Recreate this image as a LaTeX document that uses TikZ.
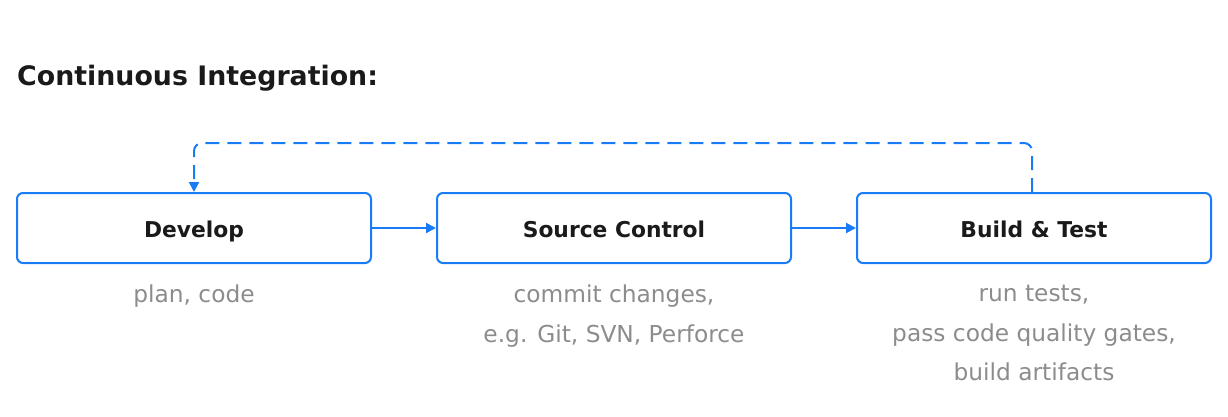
\documentclass[tikz,border=0pt]{standalone}
\usepackage{fontspec}
\setmainfont{DejaVu Sans}
\usetikzlibrary{arrows.meta}
\definecolor{ciblue}{HTML}{1A7CF5}
\definecolor{cigray}{HTML}{8C8C8C}
\definecolor{citext}{HTML}{1A1A1A}
\begin{document}
\begin{tikzpicture}[x=1pt,y=-1pt,
  stagebox/.style={draw=ciblue,line width=2pt,rounded corners=6pt,minimum width=354pt,minimum height=70pt,
    font=\fontsize{21.8}{25}\selectfont\bfseries,text=citext,inner sep=0pt,text height=18pt,text depth=0pt},
  note/.style={font=\fontsize{23.3}{39.5}\selectfont,text=cigray,align=center,anchor=north,inner sep=0pt},
  link/.style={draw=ciblue,line width=2pt,-{Triangle[length=10pt,width=10pt]}},
  loopback/.style={draw=ciblue,line width=2pt,dash pattern=on 14pt off 8pt,rounded corners=8pt,-{Triangle[length=10pt,width=10pt]}}]
\useasboundingbox (0,0) rectangle (1228,416);
\node[anchor=base west,font=\fontsize{26.8}{30}\selectfont\bfseries,text=citext,inner sep=0pt] (title) at (17,85) {Continuous Integration:};
\node[stagebox] (dev) at (194,228) {Develop};
\node[stagebox] (src) at (614,228) {Source Control};
\node[stagebox] (bt) at (1034,228) {Build \& Test};
\node[note] (n1) at (194,285) {plan, code};
\node[note] (n2) at (614,285) {commit changes,\\e.g. Git, SVN, Perforce};
\node[note] (n3) at (1034,285) {run tests,\\pass code quality gates,\\build artifacts};
\draw[link] (dev.east) -- (src.west);
\draw[link] (src.east) -- (bt.west);
\draw[loopback] ([xshift=-2pt]bt.north) -- ++(0,-49) -| (dev.north);
\end{tikzpicture}
\end{document}
